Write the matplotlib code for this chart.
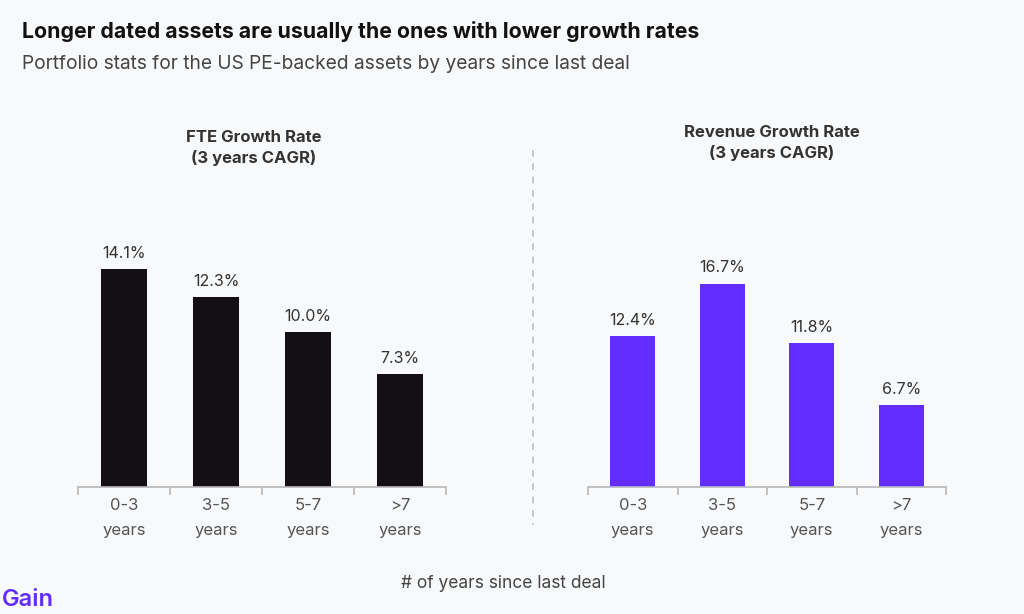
import matplotlib.pyplot as plt

# data
categories = ["0-3\nyears", "3-5\nyears", "5-7\nyears", ">7\nyears"]
fte_growth = [14.1, 12.3, 10.0, 7.3]
revenue_growth = [12.4, 16.7, 11.8, 6.7]

BG = "#f8f9fb"
BLACK = "#140e15"
PURPLE = "#642dff"
GREY_AX = "#b8b8b8"

plt.rcParams['font.family'] = ['Inter', 'DejaVu Sans']

fig = plt.figure(figsize=(10.24, 6.14), dpi=100, facecolor=BG)


def draw_panel(ax, values, color, ymax):
    x = list(range(len(values)))
    bars = ax.bar(x, values, width=0.5, color=color, zorder=2)
    for rect, v in zip(bars, values):
        ax.annotate('%.1f%%' % v, (rect.get_x() + rect.get_width() / 2, rect.get_height()),
                    xytext=(0, 6), textcoords='offset points', ha='center', va='bottom',
                    fontsize=11.5, color='#333333')
    ax.set_xlim(-0.5, len(values) - 0.5)
    ax.set_ylim(0, ymax)
    ax.set_facecolor(BG)
    for s in ['top', 'right', 'left']:
        ax.spines[s].set_visible(False)
    ax.spines['bottom'].set_color(GREY_AX)
    ax.spines['bottom'].set_linewidth(1.2)
    ax.set_yticks([])
    # ticks at category boundaries, labels in between
    ax.set_xticks([i - 0.5 for i in range(len(values) + 1)])
    ax.set_xticklabels([])
    ax.set_xticks(x, minor=True)
    ax.set_xticklabels(categories, minor=True, fontsize=12, color='#555555', linespacing=1.85)
    ax.tick_params(axis='x', which='major', length=6, color=GREY_AX, width=1.2)
    ax.tick_params(axis='x', which='minor', length=0, pad=8)


ax1 = fig.add_axes([78 / 1024, 127 / 614, 368 / 1024, 337 / 614])
draw_panel(ax1, fte_growth, BLACK, 21.8)

ax2 = fig.add_axes([588 / 1024, 127 / 614, 358 / 1024, 337 / 614])
draw_panel(ax2, revenue_growth, PURPLE, 27.7)

# panel titles
fig.text(254 / 1024, 1 - 148 / 614, "FTE Growth Rate\n(3 years CAGR)", ha='center', va='center',
         fontsize=12, fontweight='bold', color='#333333', linespacing=1.4)
fig.text(772 / 1024, 1 - 143 / 614, "Revenue Growth Rate\n(3 years CAGR)", ha='center', va='center',
         fontsize=12, fontweight='bold', color='#333333', linespacing=1.4)

# dashed separator
fig.add_artist(plt.Line2D([533 / 1024, 533 / 1024], [1 - 150 / 614, 1 - 525 / 614],
                          color='#bdbdbd', linestyle=(0, (4, 4)), linewidth=1.2))

# titles
fig.text(22 / 1024, 1 - 32 / 614, "Longer dated assets are usually the ones with lower growth rates",
         ha='left', va='center', fontsize=15.3, fontweight='bold', color='#111111')
fig.text(22 / 1024, 1 - 64 / 614, "Portfolio stats for the US PE-backed assets by years since last deal",
         ha='left', va='center', fontsize=13.8, color='#444444')

fig.text(503 / 1024, 1 - 583 / 614, "# of years since last deal", ha='center', va='center',
         fontsize=12.5, color='#444444')
fig.text(2 / 1024, 1 - 600 / 614, "Gain", ha='left', va='center', fontsize=17, fontweight='semibold',
         color=PURPLE)

fig.savefig('out.png', dpi=100, facecolor=BG)
